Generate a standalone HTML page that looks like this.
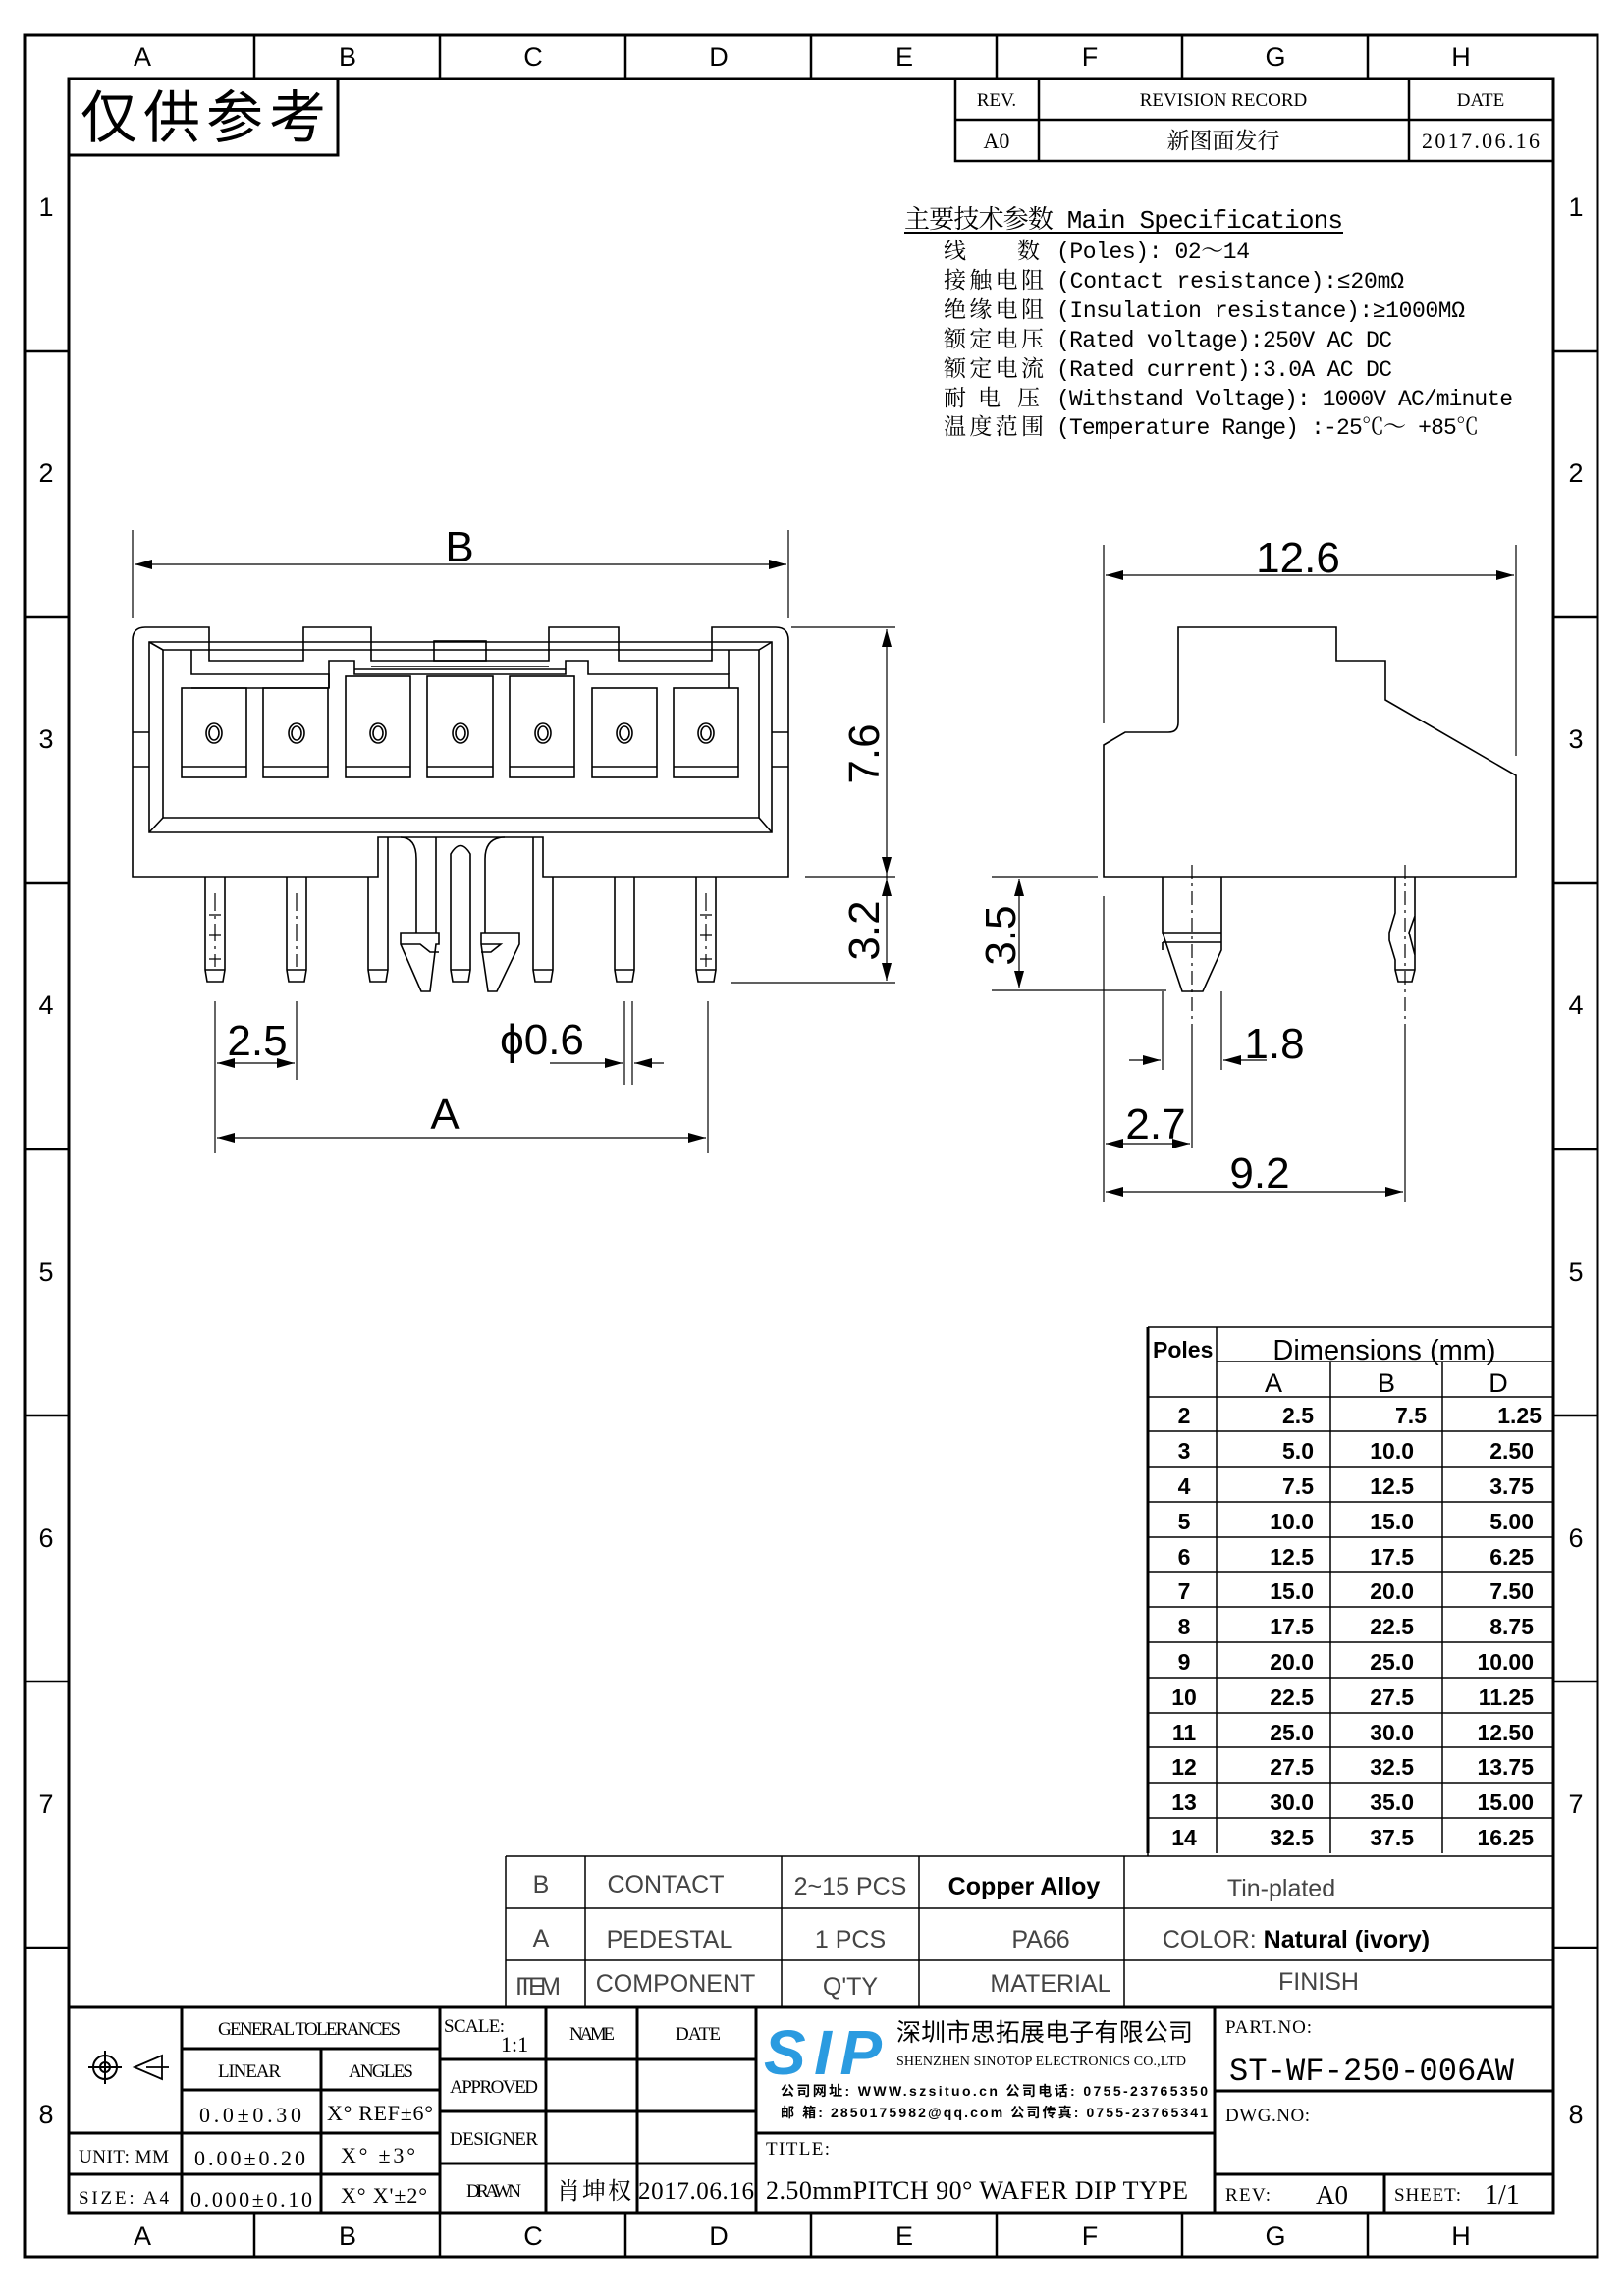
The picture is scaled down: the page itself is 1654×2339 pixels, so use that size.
<!DOCTYPE html>
<html><head><meta charset="utf-8"><style>
html,body{margin:0;padding:0;background:#fff}
svg{display:block}
text{font-family:"Liberation Sans","Noto Sans CJK SC",sans-serif;fill:#000}
.m, .m text{font-family:"Liberation Mono","Noto Serif CJK SC","Noto Sans CJK SC",monospace}
.s, .s text{font-family:"Liberation Serif","Noto Serif CJK SC",serif}
.g text{fill:#444}
</style></head><body>
<svg width="1654" height="2339" viewBox="0 0 1654 2339" xmlns="http://www.w3.org/2000/svg">
<rect width="1654" height="2339" fill="#fff"/>
<g fill="none" stroke="#000" stroke-width="3">
<rect x="25" y="36" width="1602" height="2263"/>
<rect x="70" y="80" width="1512" height="2174"/>
</g>
<g stroke="#000" stroke-width="2.5">
<line x1="259" y1="36" x2="259" y2="80"/><line x1="448" y1="36" x2="448" y2="80"/><line x1="637" y1="36" x2="637" y2="80"/><line x1="826" y1="36" x2="826" y2="80"/><line x1="1015" y1="36" x2="1015" y2="80"/><line x1="1204" y1="36" x2="1204" y2="80"/><line x1="1393" y1="36" x2="1393" y2="80"/>
<line x1="259" y1="2254" x2="259" y2="2299"/><line x1="448" y1="2254" x2="448" y2="2299"/><line x1="637" y1="2254" x2="637" y2="2299"/><line x1="826" y1="2254" x2="826" y2="2299"/><line x1="1015" y1="2254" x2="1015" y2="2299"/><line x1="1204" y1="2254" x2="1204" y2="2299"/><line x1="1393" y1="2254" x2="1393" y2="2299"/>
<line x1="25" y1="358" x2="70" y2="358"/><line x1="25" y1="629" x2="70" y2="629"/><line x1="25" y1="900" x2="70" y2="900"/><line x1="25" y1="1171" x2="70" y2="1171"/><line x1="25" y1="1442" x2="70" y2="1442"/><line x1="25" y1="1713" x2="70" y2="1713"/><line x1="25" y1="1984" x2="70" y2="1984"/>
<line x1="1582" y1="358" x2="1627" y2="358"/><line x1="1582" y1="629" x2="1627" y2="629"/><line x1="1582" y1="900" x2="1627" y2="900"/><line x1="1582" y1="1171" x2="1627" y2="1171"/><line x1="1582" y1="1442" x2="1627" y2="1442"/><line x1="1582" y1="1713" x2="1627" y2="1713"/><line x1="1582" y1="1984" x2="1627" y2="1984"/>
</g>
<g font-size="27" text-anchor="middle">
<text x="145" y="67">A</text><text x="354" y="67">B</text><text x="543" y="67">C</text><text x="732" y="67">D</text><text x="921" y="67">E</text><text x="1110" y="67">F</text><text x="1299" y="67">G</text><text x="1488" y="67">H</text>
<text x="145" y="2287">A</text><text x="354" y="2287">B</text><text x="543" y="2287">C</text><text x="732" y="2287">D</text><text x="921" y="2287">E</text><text x="1110" y="2287">F</text><text x="1299" y="2287">G</text><text x="1488" y="2287">H</text>
<text x="47" y="220">1</text><text x="47" y="491">2</text><text x="47" y="762">3</text><text x="47" y="1033">4</text><text x="47" y="1305">5</text><text x="47" y="1576">6</text><text x="47" y="1847">7</text><text x="47" y="2163">8</text>
<text x="1605" y="220">1</text><text x="1605" y="491">2</text><text x="1605" y="762">3</text><text x="1605" y="1033">4</text><text x="1605" y="1305">5</text><text x="1605" y="1576">6</text><text x="1605" y="1847">7</text><text x="1605" y="2163">8</text>
</g>
<rect x="70" y="80" width="274" height="78" fill="none" stroke="#000" stroke-width="3"/>
<text x="82" y="140" font-size="58" textLength="250">仅供参考</text>
<g fill="none" stroke="#000" stroke-width="2.5"><rect x="973" y="80" width="609" height="84"/><line x1="973" y1="122" x2="1582" y2="122"/><line x1="1058" y1="80" x2="1058" y2="164"/><line x1="1435" y1="80" x2="1435" y2="164"/></g>
<g class="s" font-size="19" text-anchor="middle"><text x="1015" y="108">REV.</text><text x="1246" y="108">REVISION RECORD</text><text x="1508" y="108">DATE</text>
<text x="1015" y="151" font-size="22">A0</text><text x="1246" y="151" font-size="23">新图面发行</text><text x="1508" y="151" font-size="22" textLength="120">2017.06.16</text></g>
<g class="m" font-size="23">
<text x="921" y="232" textLength="447" font-size="26">主要技术参数 Main Specifications</text>
<line x1="921" y1="237" x2="1368" y2="237" stroke="#000" stroke-width="2"/>
<text x="961" y="263">线</text><text x="1036" y="263">数</text><text x="1076" y="263" textLength="197">(Poles): 02～14</text>
<text x="961" y="293" textLength="102">接触电阻</text><text x="1076" y="293" textLength="354">(Contact resistance):≤20mΩ</text>
<text x="961" y="323" textLength="102">绝缘电阻</text><text x="1076" y="323" textLength="416">(Insulation resistance):≥1000MΩ</text>
<text x="961" y="353" textLength="102">额定电压</text><text x="1076" y="353" textLength="342">(Rated voltage):250V AC DC</text>
<text x="961" y="383" textLength="102">额定电流</text><text x="1076" y="383" textLength="342">(Rated current):3.0A AC DC</text>
<text x="961" y="413">耐</text><text x="996" y="413">电</text><text x="1036" y="413">压</text><text x="1076" y="413" textLength="465">(Withstand Voltage): 1000V AC/minute</text>
<text x="961" y="442" textLength="102">温度范围</text><text x="1076" y="442" textLength="430">(Temperature Range) :-25℃～ +85℃</text>
</g>
<g fill="none" stroke="#000" stroke-width="1.6">
<path d="M135,893 L135,652 Q135,639 148,639 L213,639 L213,673 L309,673 L309,639 L378,639 L378,673 L559,673 L559,639 L630,639 L630,673 L725,673 L725,639 L790,639 Q803,639 803,652 L803,893 L553,893 L553,853 L385,853 L385,893 Z"/>
<rect x="442" y="653" width="53" height="20"/>
<line x1="378" y1="679" x2="559" y2="679"/>
<path d="M152,654 L786,654 L786,848 L152,848 Z"/>
<path d="M166,662 L773,662 L773,833 L166,833 Z"/>
<line x1="152" y1="654" x2="166" y2="662"/><line x1="786" y1="654" x2="773" y2="662"/><line x1="152" y1="848" x2="166" y2="833"/><line x1="786" y1="848" x2="773" y2="833"/>
<path d="M195,662 L195,687 L335,687 L335,701"/>
<path d="M195,701 L335,701 L335,673 L361,673 L361,687 L576,687 L576,673 L599,673 L599,687 L742,687 L742,701"/>
<line x1="361" y1="682" x2="576" y2="682"/>
<path d="M742,687 L742,662"/>
<line x1="135" y1="746" x2="152" y2="746"/><line x1="135" y1="781" x2="152" y2="781"/><line x1="786" y1="746" x2="803" y2="746"/><line x1="786" y1="781" x2="803" y2="781"/>
<rect x="185" y="701" width="66" height="91"/><line x1="185" y1="781" x2="251" y2="781"/>
<rect x="268" y="701" width="66" height="91"/><line x1="268" y1="781" x2="334" y2="781"/>
<rect x="352" y="689" width="66" height="103"/><line x1="352" y1="781" x2="418" y2="781"/>
<rect x="435" y="689" width="67" height="103"/><line x1="435" y1="781" x2="502" y2="781"/>
<rect x="519" y="689" width="66" height="103"/><line x1="519" y1="781" x2="585" y2="781"/>
<rect x="603" y="701" width="66" height="91"/><line x1="603" y1="781" x2="669" y2="781"/>
<rect x="686" y="701" width="66" height="91"/><line x1="686" y1="781" x2="752" y2="781"/>
<ellipse cx="218" cy="747" rx="8" ry="10"/><ellipse cx="218" cy="747" rx="5" ry="7"/>
<ellipse cx="302" cy="747" rx="8" ry="10"/><ellipse cx="302" cy="747" rx="5" ry="7"/>
<ellipse cx="385" cy="747" rx="8" ry="10"/><ellipse cx="385" cy="747" rx="5" ry="7"/>
<ellipse cx="469" cy="747" rx="8" ry="10"/><ellipse cx="469" cy="747" rx="5" ry="7"/>
<ellipse cx="553" cy="747" rx="8" ry="10"/><ellipse cx="553" cy="747" rx="5" ry="7"/>
<ellipse cx="636" cy="747" rx="8" ry="10"/><ellipse cx="636" cy="747" rx="5" ry="7"/>
<ellipse cx="719" cy="747" rx="8" ry="10"/><ellipse cx="719" cy="747" rx="5" ry="7"/>
<path d="M209,893 L209,988 L211,1000 L227,1000 L229,988 L229,893 M209,988 L229,988"/>
<path d="M292,893 L292,988 L294,1000 L310,1000 L312,988 L312,893 M292,988 L312,988"/>
<path d="M375,893 L375,988 L377,1000 L393,1000 L395,988 L395,853 M375,988 L395,988"/>
<path d="M459,988 L459,870 Q469,853 479,870 L479,988 L477,1000 L461,1000 Z M459,988 L479,988"/>
<path d="M543,853 L543,988 L545,1000 L561,1000 L563,988 L563,893 M543,988 L563,988"/>
<path d="M626,893 L626,988 L628,1000 L644,1000 L646,988 L646,893 M626,988 L646,988"/>
<path d="M709,893 L709,988 L711,1000 L727,1000 L729,988 L729,893 M709,988 L729,988"/>
<path d="M408,853 Q424,853 424,875 L424,950 M444,853 L444,950"/>
<path d="M408,950 L447,950 L447,962 L444,962 L438,1010 L429,1010 L408,962 Z M408,962 L428,962 L438,970 L447,970"/>
<path d="M514,853 Q494,853 494,875 L494,950"/>
<path d="M494,950 L529,950 L529,962 L506,1010 L497,1010 L490,962 L490,950 Z M490,962 L510,962 L500,970 L490,970"/>
</g>
<g stroke="#000" stroke-width="1.2" fill="none">
<line x1="219" y1="910" x2="219" y2="985" stroke-dasharray="18,5,3,5"/>
<line x1="302" y1="910" x2="302" y2="985" stroke-dasharray="18,5,3,5"/>
<line x1="719" y1="910" x2="719" y2="985" stroke-dasharray="18,5,3,5"/>
<path d="M213,932h12M213,953h12M213,977h12M713,932h12M713,953h12M713,977h12"/>
<line x1="135" y1="540" x2="135" y2="630"/><line x1="803" y1="540" x2="803" y2="630"/>
<line x1="137" y1="575" x2="801" y2="575"/>
<line x1="806" y1="639" x2="912" y2="639"/><line x1="820" y1="893" x2="912" y2="893"/><line x1="745" y1="1001" x2="912" y2="1001"/>
<line x1="903" y1="641" x2="903" y2="999"/>
<line x1="219" y1="1020" x2="219" y2="1175"/><line x1="302" y1="1020" x2="302" y2="1100"/>
<line x1="721" y1="1020" x2="721" y2="1175"/><line x1="636" y1="1020" x2="636" y2="1105"/><line x1="644" y1="1020" x2="644" y2="1105"/>
<line x1="221" y1="1083" x2="300" y2="1083"/>
<line x1="560" y1="1083" x2="634" y2="1083"/><line x1="646" y1="1083" x2="676" y2="1083"/>
<line x1="221" y1="1159" x2="719" y2="1159"/>
</g>
<g fill="#000">
<polygon points="137,575 155,570 155,580"/><polygon points="801,575 783,570 783,580"/>
<polygon points="903,641 898,659 908,659"/><polygon points="903,891 898,873 908,873"/>
<polygon points="903,895 898,913 908,913"/><polygon points="903,999 898,981 908,981"/>
<polygon points="221,1083 239,1078 239,1088"/><polygon points="300,1083 282,1078 282,1088"/>
<polygon points="634,1083 616,1078 616,1088"/><polygon points="646,1083 664,1078 664,1088"/>
<polygon points="221,1159 239,1154 239,1164"/><polygon points="719,1159 701,1154 701,1164"/>
</g>
<g font-size="44" text-anchor="middle">
<text x="468" y="572">B</text>
<text x="262" y="1075">2.5</text>
<text x="552" y="1074">ϕ0.6</text>
<text x="453" y="1150">A</text>
<text transform="translate(895,768) rotate(-90)">7.6</text>
<text transform="translate(895,948) rotate(-90)">3.2</text>
</g>
<g fill="none" stroke="#000" stroke-width="1.6">
<path d="M1124,759 L1146,746 L1190,746 Q1200,746 1200,736 L1200,639 L1361,639 L1361,673 L1411,673 L1411,713 L1544,790 L1544,893 L1124,893 Z"/>
<path d="M1184,893 L1184,950 L1204,1010 L1225,1010 L1244,968 L1244,893 M1184,950 L1244,950 M1184,960 L1244,960 M1184,960 L1184,968 M1244,960 L1244,968"/>
<path d="M1421,893 L1421,930 L1415,950 L1415,958 L1421,978 L1421,988 L1424,1000 L1438,1000 L1441,988 L1441,893 M1441,933 L1435,950 L1441,973 M1421,988 L1441,988"/>
</g>
<g stroke="#000" stroke-width="1.2" fill="none">
<line x1="1214" y1="881" x2="1214" y2="1050" stroke-dasharray="14,5,3,5"/>
<line x1="1431" y1="881" x2="1431" y2="1050" stroke-dasharray="14,5,3,5"/>
<line x1="1431" y1="1050" x2="1431" y2="1225"/>
<line x1="1124" y1="555" x2="1124" y2="737"/><line x1="1124" y1="913" x2="1124" y2="1225"/>
<line x1="1544" y1="555" x2="1544" y2="770"/>
<line x1="1126" y1="586" x2="1542" y2="586"/>
<line x1="1010" y1="893" x2="1118" y2="893" /><line x1="1010" y1="1009" x2="1188" y2="1009"/>
<line x1="1038" y1="895" x2="1038" y2="1007"/>
<line x1="1184" y1="1010" x2="1184" y2="1090"/><line x1="1244" y1="1010" x2="1244" y2="1090"/>
<line x1="1150" y1="1080" x2="1182" y2="1080"/><line x1="1246" y1="1080" x2="1290" y2="1080"/>
<line x1="1214" y1="1050" x2="1214" y2="1170"/>
<line x1="1126" y1="1165" x2="1212" y2="1165"/>
<line x1="1126" y1="1214" x2="1429" y2="1214"/>
</g>
<g fill="#000">
<polygon points="1126,586 1144,581 1144,591"/><polygon points="1542,586 1524,581 1524,591"/>
<polygon points="1038,895 1033,913 1043,913"/><polygon points="1038,1007 1033,989 1043,989"/>
<polygon points="1182,1080 1164,1075 1164,1085"/><polygon points="1246,1080 1264,1075 1264,1085"/>
<polygon points="1126,1165 1144,1160 1144,1170"/><polygon points="1212,1165 1194,1160 1194,1170"/>
<polygon points="1126,1214 1144,1209 1144,1219"/><polygon points="1429,1214 1411,1209 1411,1219"/>
</g>
<g font-size="44" text-anchor="middle">
<text x="1322" y="583">12.6</text>
<text transform="translate(1034,953) rotate(-90)">3.5</text>
<text x="1298" y="1078">1.8</text>
<text x="1177" y="1160">2.7</text>
<text x="1283" y="1210">9.2</text>
</g>
<g fill="none" stroke="#000" stroke-width="1.5">
<path d="M1169,1352 L1583,1352 M1239,1387 L1583,1387 M1169,1423 L1583,1423 M1239,1352 L1239,1888 M1355,1387 L1355,1888 M1469,1387 L1469,1888"/>
<path d="M1169,1458H1583M1169,1494H1583M1169,1530H1583M1169,1566H1583M1169,1601H1583M1169,1637H1583M1169,1673H1583M1169,1709H1583M1169,1745H1583M1169,1780H1583M1169,1816H1583M1169,1852H1583"/>
</g>
<line x1="1169" y1="1352" x2="1169" y2="1888" stroke="#000" stroke-width="3"/>
<g font-size="24" font-weight="bold">
<text x="1174" y="1383" font-size="23">Poles</text>
<text x="1410" y="1385" font-size="29" text-anchor="middle" font-weight="normal">Dimensions  (mm)</text>
<text x="1297" y="1418" text-anchor="middle" font-weight="normal" font-size="27">A</text><text x="1412" y="1418" text-anchor="middle" font-weight="normal" font-size="27">B</text><text x="1526" y="1418" text-anchor="middle" font-weight="normal" font-size="27">D</text>
</g>
<g font-size="23" font-weight="bold">
<g text-anchor="middle">
<text x="1206" y="1450">2</text><text x="1206" y="1486">3</text><text x="1206" y="1522">4</text><text x="1206" y="1558">5</text><text x="1206" y="1594">6</text><text x="1206" y="1629">7</text><text x="1206" y="1665">8</text><text x="1206" y="1701">9</text><text x="1206" y="1737">10</text><text x="1206" y="1773">11</text><text x="1206" y="1808">12</text><text x="1206" y="1844">13</text><text x="1206" y="1880">14</text>
</g>
<g text-anchor="end">
<text x="1338" y="1450">2.5</text><text x="1338" y="1486">5.0</text><text x="1338" y="1522">7.5</text><text x="1338" y="1558">10.0</text><text x="1338" y="1594">12.5</text><text x="1338" y="1629">15.0</text><text x="1338" y="1665">17.5</text><text x="1338" y="1701">20.0</text><text x="1338" y="1737">22.5</text><text x="1338" y="1773">25.0</text><text x="1338" y="1808">27.5</text><text x="1338" y="1844">30.0</text><text x="1338" y="1880">32.5</text>
<text x="1453" y="1450">7.5</text><text x="1440" y="1486">10.0</text><text x="1440" y="1522">12.5</text><text x="1440" y="1558">15.0</text><text x="1440" y="1594">17.5</text><text x="1440" y="1629">20.0</text><text x="1440" y="1665">22.5</text><text x="1440" y="1701">25.0</text><text x="1440" y="1737">27.5</text><text x="1440" y="1773">30.0</text><text x="1440" y="1808">32.5</text><text x="1440" y="1844">35.0</text><text x="1440" y="1880">37.5</text>
<text x="1570" y="1450">1.25</text><text x="1562" y="1486">2.50</text><text x="1562" y="1522">3.75</text><text x="1562" y="1558">5.00</text><text x="1562" y="1594">6.25</text><text x="1562" y="1629">7.50</text><text x="1562" y="1665">8.75</text><text x="1562" y="1701">10.00</text><text x="1562" y="1737">11.25</text><text x="1562" y="1773">12.50</text><text x="1562" y="1808">13.75</text><text x="1562" y="1844">15.00</text><text x="1562" y="1880">16.25</text>
</g></g>
<g fill="none" stroke="#000" stroke-width="1.5">
<path d="M515,1891 H1583 M515,1944 H1583 M515,1997 H1583 M515,1891 V2045 M596,1891 V2045 M796,1891 V2045 M936,1891 V2045 M1145,1891 V2045 M1169,1888 V1891"/>
</g>
<g font-size="25" class="g" text-anchor="middle">
<text x="551" y="1928">B</text><text x="678" y="1928">CONTACT</text><text x="866" y="1930">2~15 PCS</text><text x="1043" y="1930" font-weight="bold" style="fill:#000">Copper Alloy</text><text x="1305" y="1932">Tin-plated</text>
<text x="551" y="1983">A</text><text x="682" y="1984">PEDESTAL</text><text x="866" y="1984">1 PCS</text><text x="1060" y="1984">PA66</text><text x="1320" y="1984"><tspan>COLOR:</tspan><tspan font-weight="bold" style="fill:#000"> Natural (ivory)</tspan></text>
<text x="548" y="2032" textLength="46">ITEM</text><text x="688" y="2029">COMPONENT</text><text x="866" y="2032">Q'TY</text><text x="1070" y="2029">MATERIAL</text><text x="1343" y="2027">FINISH</text>
</g>
<g fill="none" stroke="#000" stroke-width="3">
<path d="M70,2045 H1582"/>
<path d="M185,2045 V2254 M448,2045 V2254 M770,2045 V2254 M1237,2045 V2254"/>
<path d="M185,2087 H448 M185,2129 H448 M70,2173 H448 M70,2215 H448 M327,2087 V2254 M448,2098 H770 M448,2151 H770 M448,2204 H770 M556,2045 V2254 M649,2045 V2254 M770,2173 H1237 M1237,2130 H1582 M1237,2215 H1582 M1410,2215 V2254"/>
</g>
<g class="s" font-size="19">
<text x="222" y="2073" textLength="186">GENERAL TOLERANCES</text>
<text x="222" y="2116" textLength="64">LINEAR</text><text x="355" y="2116" textLength="66">ANGLES</text>
<text x="203" y="2162" font-size="22" textLength="104">0.0±0.30</text><text x="333" y="2160" font-size="22" textLength="108">X° REF±6°</text>
<text x="80" y="2203" textLength="92">UNIT: MM</text><text x="198" y="2206" font-size="22" textLength="113">0.00±0.20</text><text x="347" y="2203" font-size="22" textLength="76">X° ±3°</text>
<text x="80" y="2245" textLength="92">SIZE: A4</text><text x="194" y="2248" font-size="22" textLength="124">0.000±0.10</text><text x="347" y="2244" font-size="22" textLength="88">X° X'±2°</text>
<text x="452" y="2070" textLength="62">SCALE:</text><text x="510" y="2090" font-size="22">1:1</text>
<text x="580" y="2078" textLength="46">NAME</text><text x="688" y="2078" textLength="46">DATE</text>
<text x="458" y="2132" textLength="90">APPROVED</text><text x="458" y="2185" textLength="90">DESIGNER</text><text x="475" y="2238" textLength="56">DRAWN</text>
<text x="567" y="2240" font-size="24" textLength="76">肖坤权</text><text x="650" y="2240" font-size="25" textLength="118">2017.06.16</text>
<text x="780" y="2195" textLength="65">TITLE:</text>
<text x="780" y="2240" font-size="26" textLength="430">2.50mmPITCH 90° WAFER DIP TYPE</text>
<text x="1248" y="2071" textLength="88">PART.NO:</text>
<text x="1248" y="2161" textLength="86">DWG.NO:</text>
<text x="1248" y="2242" textLength="46">REV:</text><text x="1340" y="2245" font-size="27">A0</text>
<text x="1420" y="2242" textLength="68">SHEET:</text><text x="1512" y="2245" font-size="28">1/1</text>
</g>
<text x="1252" y="2119" font-size="32" class="m" textLength="290">ST-WF-250-006AW</text>
<g fill="none" stroke="#000" stroke-width="2">
<circle cx="107" cy="2106" r="12"/><circle cx="107" cy="2106" r="5"/><path d="M90,2106 H124 M107,2089 V2123"/>
<path d="M137,2106 L165,2094 L165,2118 Z M149,2106 H172" stroke-width="1.8"/>
</g>
<text x="778" y="2113" font-size="64" font-weight="bold" font-style="italic" style="fill:#2b9be0" textLength="120">SIP</text>
<text x="913" y="2079" font-size="25" textLength="302">深圳市思拓展电子有限公司</text>
<text x="913" y="2104" font-size="14" class="s" textLength="295">SHENZHEN SINOTOP ELECTRONICS CO.,LTD</text>
<text x="795" y="2135" font-size="14" font-weight="bold" textLength="435">公司网址: WWW.szsituo.cn        公司电话: 0755-23765350</text>
<text x="795" y="2157" font-size="14" font-weight="bold" textLength="435">邮    箱: 2850175982@qq.com   公司传真: 0755-23765341</text>
</svg>
</body></html>
